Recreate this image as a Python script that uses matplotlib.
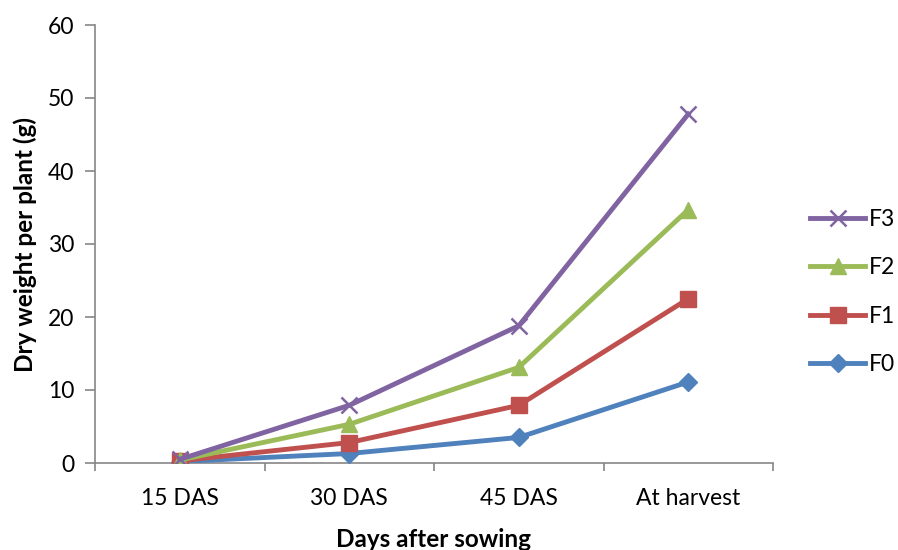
import matplotlib
matplotlib.use('Agg')
import matplotlib.pyplot as plt
import numpy as np

plt.rcParams['font.family'] = ['Lato', 'DejaVu Sans']

stages = ['15 DAS', '30 DAS', '45 DAS', 'At harvest']
f0 = [0.2, 1.3, 3.5, 11.1]
f1 = [0.3, 2.8, 7.9, 22.5]
f2 = [0.4, 5.3, 13.1, 34.7]
f3 = [0.5, 7.9, 18.8, 47.8]

fig = plt.figure(figsize=(8.98, 5.5), dpi=100)
ax = fig.add_axes([95/898, 1 - 463/550, (773-95)/898, (463-25)/550])

x = np.arange(len(stages))
ax.plot(x, f0, color='#4F81BD', lw=3.5, marker='D', ms=9, label='F0', zorder=3)
ax.plot(x, f1, color='#C0504D', lw=3.5, marker='s', ms=11, label='F1', zorder=3)
ax.plot(x, f2, color='#9BBB59', lw=3.5, marker='^', ms=12, label='F2', zorder=3)
ax.plot(x, f3, color='#8064A2', lw=3.5, marker='x', ms=12, mew=1.8, label='F3', zorder=4)

ax.set_xlim(-0.5, len(stages) - 0.5)
ax.set_ylim(0, 60)
ax.set_yticks(range(0, 61, 10))
ax.set_xticks(x)
ax.set_xticklabels(stages)
ax.set_xticks(np.arange(-0.5, len(stages)), minor=True)
ax.tick_params(axis='x', which='major', length=0, pad=18, labelsize=16.5)
ax.tick_params(axis='x', which='minor', length=6, width=1.2, color='#868686', direction='out')
ax.tick_params(axis='y', length=7, width=1.2, color='#868686', labelsize=16.5, pad=8)

for s in ['top', 'right']:
    ax.spines[s].set_visible(False)
for s in ['left', 'bottom']:
    ax.spines[s].set_color('#868686')
    ax.spines[s].set_linewidth(1.2)

ax.set_ylabel('Dry weight per plant (g)', fontsize=17.5, fontweight='bold', labelpad=8)
ax.set_xlabel('Days after sowing', fontsize=17.5, fontweight='bold', labelpad=14)

handles, labels = ax.get_legend_handles_labels()
fig.legend(handles[::-1], labels[::-1], loc='center left', bbox_to_anchor=(810/898, 1 - 292/550),
           frameon=False, fontsize=16.5, handlelength=2.4, labelspacing=1.2, handletextpad=0.15,
           borderpad=0, borderaxespad=0)

fig.savefig('out.png', dpi=100)
